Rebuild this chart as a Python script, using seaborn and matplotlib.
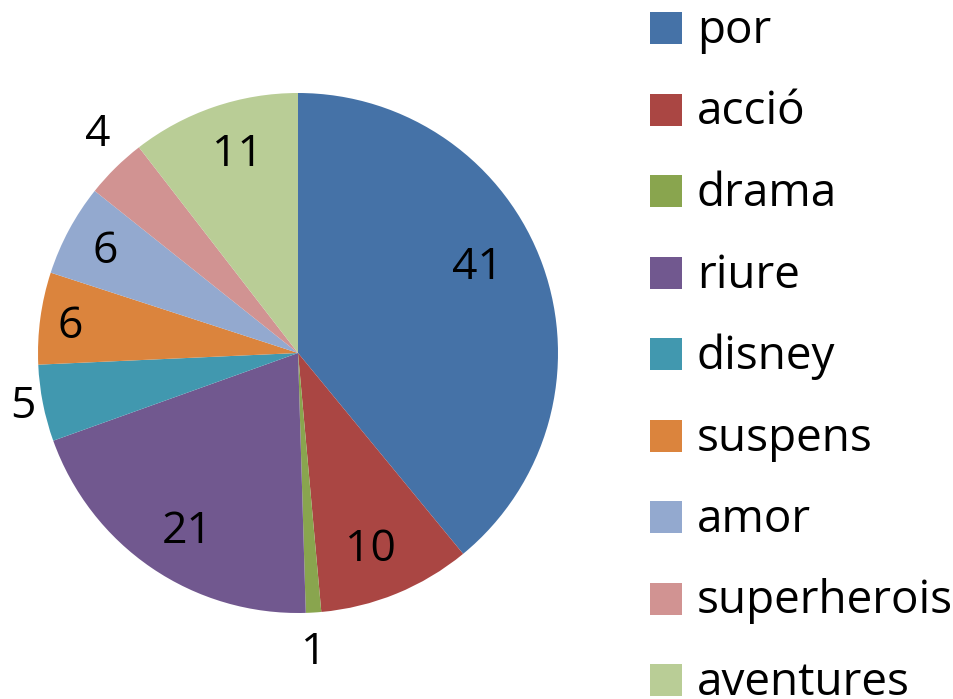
import matplotlib
matplotlib.use("Agg")
import matplotlib.pyplot as plt
import seaborn as sns
import numpy as np
from matplotlib.patches import Rectangle

sns.set_theme(style="white")
plt.rcParams['font.family'] = ['Open Sans', 'DejaVu Sans']
plt.rcParams['text.color'] = 'black'

categories = ["por", "acció", "drama", "riure", "disney", "suspens", "amor", "superherois", "aventures"]
values = [41, 10, 1, 21, 5, 6, 6, 4, 11]
colors = ["#4572A7", "#AA4643", "#89A54E", "#71588F", "#4198AF",
          "#DB843D", "#93A9CF", "#D19392", "#B9CD96"]
# label placement (radius fraction, angular nudge in degrees)
label_dist = [0.765, 0.807, 1.155, 0.81, 1.078, 0.882, 0.838, 1.138, 0.797]
label_nudge = [5.6, -2.2, -0.5, 2.5, 0.0, 1.2, 0.7, -2.1, -1.9]

W, H = 954, 699
fig = plt.figure(figsize=(W / 100, H / 100), dpi=100)
cx, cy, r = 298, 353, 260
ax = fig.add_axes([(cx - r) / W, (H - cy - r) / H, 2 * r / W, 2 * r / H])

wedges, _ = ax.pie(values, colors=colors, startangle=90, counterclock=False,
                   radius=1, wedgeprops=dict(linewidth=0))
for w, v, d, n in zip(wedges, values, label_dist, label_nudge):
    ang = np.deg2rad((w.theta1 + w.theta2) / 2 + n)
    ax.text(d * np.cos(ang), d * np.sin(ang), str(v), ha="center", va="center",
            fontsize=32, color="black")
ax.set_xlim(-1, 1)
ax.set_ylim(-1, 1)
ax.set_aspect("equal")
ax.axis("off")

# legend drawn in a pixel-coordinate overlay
lax = fig.add_axes([0, 0, 1, 1], facecolor="none")
lax.set_xlim(0, W)
lax.set_ylim(H, 0)
lax.axis("off")
row0, step, sq = 28, 81.5, 32
for i, (c, lab) in enumerate(zip(colors, categories)):
    yc = row0 + i * step
    lax.add_patch(Rectangle((650, yc - sq / 2), sq, sq, facecolor=c, edgecolor="none"))
    lax.text(697, yc + 15, lab, ha="left", va="baseline", fontsize=33, color="black")

fig.savefig("out.png", dpi=100)
